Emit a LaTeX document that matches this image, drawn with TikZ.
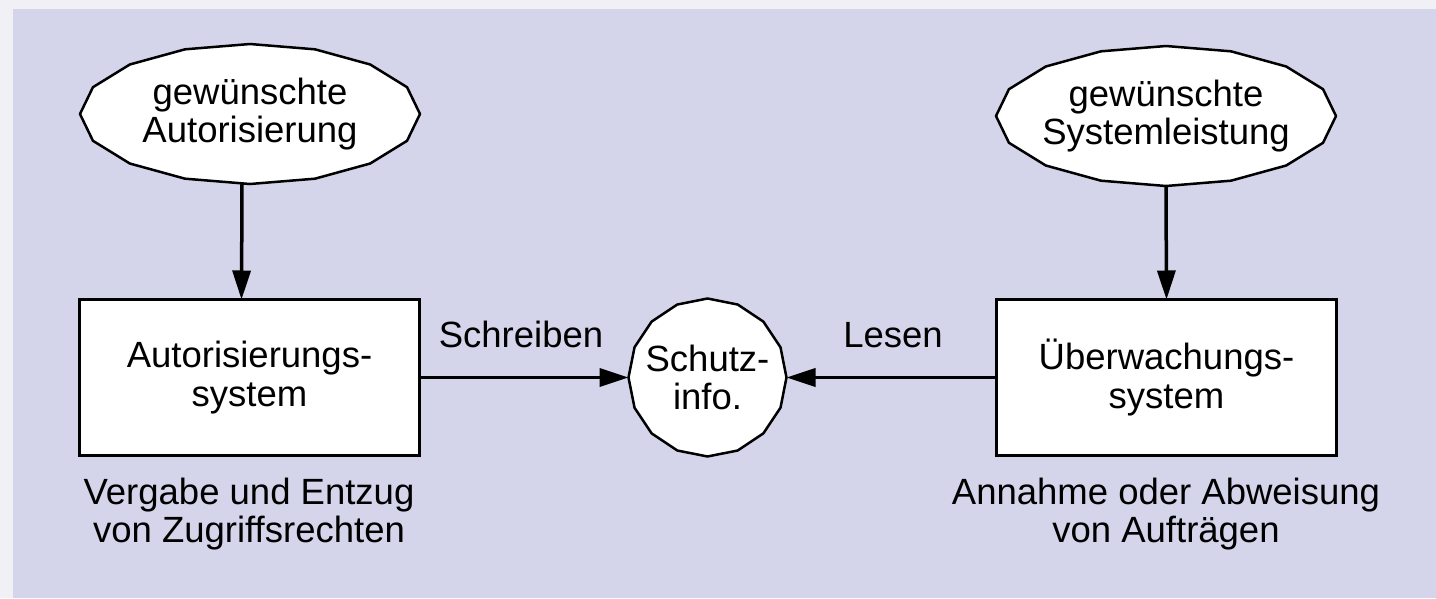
\documentclass[tikz,border=0pt]{standalone}
\usepackage{fontspec}
\setmainfont{Liberation Sans}
\usetikzlibrary{arrows.meta,shapes.geometric}
\definecolor{margincol}{HTML}{F1F1F5}
\definecolor{lavcol}{HTML}{D4D4EA}
\begin{document}
\begin{tikzpicture}[x=1pt,y=-1pt,
  txt/.style={font=\fontsize{36.5}{38.5}\selectfont, align=center, inner sep=0pt, outer sep=0pt},
  ell/.style={txt, ellipse, minimum width=340pt, minimum height=140pt},
  polyline/.style={line width=2.5pt, fill=white, line join=round},
  boxnode/.style={txt, rectangle, draw, fill=white, line width=3pt, minimum width=340pt, minimum height=156pt},
  circ/.style={txt, circle, minimum size=158pt},
  arr/.style={line width=3.5pt, -{Triangle[length=29pt,width=18pt]}},
]
\useasboundingbox (0,0) rectangle (1436,598);
\fill[margincol] (0,0) rectangle (1436,598);
\fill[lavcol] (13,9) rectangle (1436,598);

\coordinate (c1) at (250,114);
\coordinate (c2) at (1166,116);
\coordinate (c3) at (707.5,377.5);
\filldraw[polyline, shift={(c1)}] plot[samples=17, domain=0:360, variable=\t] ({170*cos(\t)},{70*sin(\t)}) -- cycle;
\filldraw[polyline, shift={(c2)}] plot[samples=17, domain=0:360, variable=\t] ({170*cos(\t)},{70*sin(\t)}) -- cycle;
\filldraw[polyline, shift={(c3)}] plot[samples=17, domain=0:360, variable=\t] ({79*cos(\t)},{79*sin(\t)}) -- cycle;

\node[ell] (e1) at (c1) {gewünschte\\Autorisierung};
\node[ell] (e2) at (c2) {gewünschte\\Systemleistung};
\node[boxnode] (b1) at (249.5,377.5) {Autorisierungs-\\system};
\node[boxnode] (b2) at (1166.5,377.5) {Überwachungs-\\system};
\node[circ] (s) at (c3) {Schutz-\\info.};
\node[txt, anchor=base] (l1) at (521,347) {Schreiben};
\node[txt, anchor=base] (l2) at (893,347) {Lesen};
\node[txt] (t1) at (249,514) {Vergabe und Entzug\\von Zugriffsrechten};
\node[txt] (t2) at (1166,514) {Annahme oder Abweisung\\von Aufträgen};

\draw[arr] ([xshift=-8pt]e1.south) -- ([xshift=-8pt]b1.north);
\draw[arr] (e2.south) -- (b2.north);
\draw[arr] (b1.east) -- (s.west);
\draw[arr] (b2.west) -- (s.east);
\end{tikzpicture}
\end{document}
